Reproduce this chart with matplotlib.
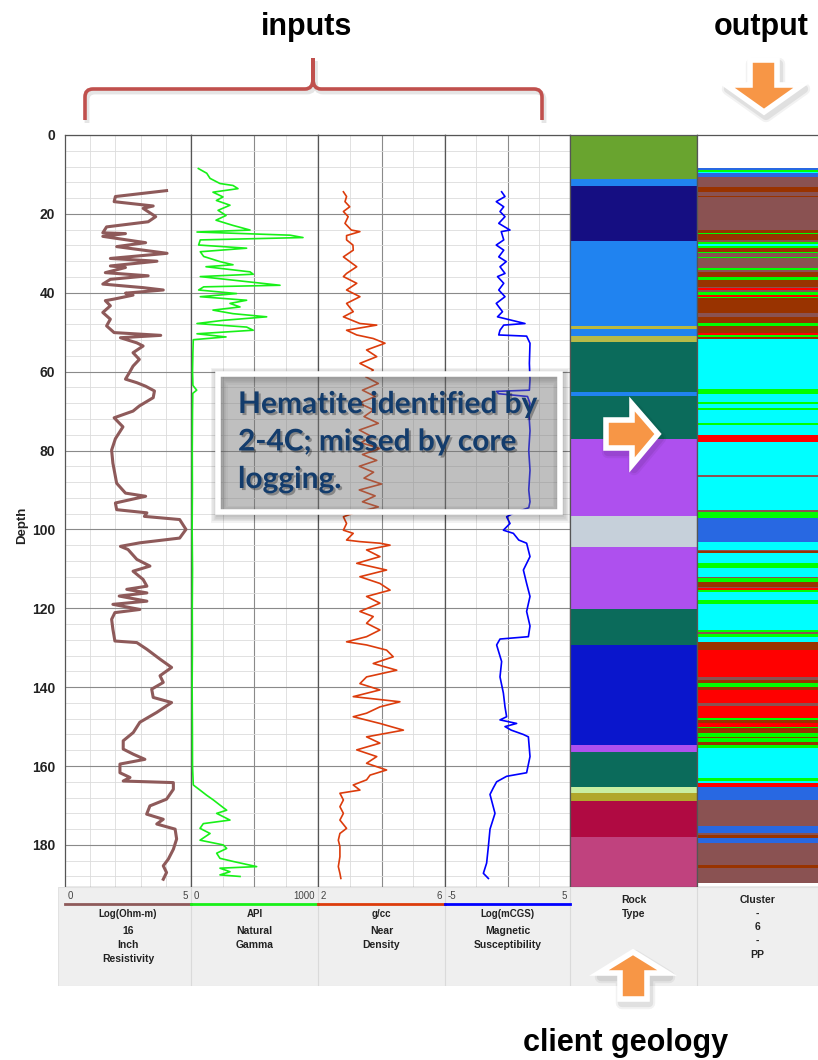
import numpy as np
import matplotlib.pyplot as plt
from matplotlib.patches import Polygon, Rectangle, PathPatch
from matplotlib.path import Path
import matplotlib.patheffects as pe

plt.rcParams['font.family'] = ['Liberation Sans', 'DejaVu Sans']

# ---------------- data ----------------
res_depth = [14.1, 15.6, 16.9, 18.0, 18.6, 20.7, 22.0, 23.3, 24.8, 25.0, 25.7, 27.3, 28.3, 30.0, 31.3,
             32.0, 33.2, 33.6, 34.9, 35.7, 36.6, 37.8, 38.7, 39.3, 40.1, 40.6, 41.6, 42.0, 43.3, 45.0,
             46.7, 48.4, 50.1, 50.8, 51.4, 52.7, 53.5, 55.2, 56.9, 58.6, 60.3, 61.9, 62.8, 63.7, 64.9,
             66.6, 68.7, 70.0, 71.7, 74.0, 77.0, 79.9, 83.2, 88.3, 90.8, 91.6, 93.3, 95.0, 95.8, 96.7,
             97.5, 100.0, 102.2, 103.4, 104.3, 105.1, 107.6, 109.3, 110.6, 112.7, 114.4, 115.2, 116.1,
             116.9, 118.2, 119.0, 120.3, 121.1, 122.8, 125.3, 128.3, 128.7, 130.4, 132.9, 135.0, 137.1,
             138.8, 140.5, 142.6, 143.9, 146.4, 148.9, 151.5, 153.6, 155.7, 157.0, 158.3, 159.5, 161.7,
             162.9, 163.8, 164.2, 165.9, 168.4, 170.1, 172.2, 173.5, 174.7, 176.0, 178.5, 181.1, 183.6,
             185.3, 187.0, 188.7]
res_val = [4.03, 2.0, 1.95, 3.5, 3.1, 3.6, 3.3, 1.65, 1.5, 2.4, 1.5, 3.2, 2.05, 4.05, 1.8,
           3.65, 1.8, 2.4, 1.6, 3.3, 1.8, 1.5, 3.1, 3.9, 2.4, 2.7, 1.95, 1.6, 1.8, 1.5,
           1.8, 1.65, 1.95, 3.8, 2.2, 2.85, 3.1, 2.7, 2.95, 2.7, 2.55, 2.4, 2.85, 3.2, 3.55,
           3.5, 2.95, 2.7, 1.95, 2.3, 2.0, 1.85, 1.9, 2.05, 2.4, 3.2, 2.0, 2.05, 3.25, 3.15,
           4.55, 4.8, 4.55, 2.97, 2.2, 2.5, 2.85, 3.37, 2.7, 3.1, 3.25, 2.45, 3.25,
           2.15, 3.25, 1.9, 2.97, 1.98, 1.85, 1.9, 1.98, 2.85, 3.25, 3.77, 4.23, 3.77,
           3.9, 3.44, 3.5, 4.23, 3.64, 2.97, 2.71, 2.31, 2.31, 2.71, 3.17, 2.18, 2.18,
           2.58, 2.31, 4.3, 4.3, 4.03, 3.37, 3.24, 3.9, 3.64, 4.37, 4.43, 4.3, 4.1,
           3.9, 4.03, 3.9]

gam_depth = [8.5, 9.7, 11.0, 12.3, 12.8, 13.6, 14.5, 15.7, 16.6, 17.8, 19.1, 20.4, 21.6, 22.9, 24.1,
             24.6, 25.4, 26.0, 26.6, 27.9, 28.7, 29.6, 30.8, 32.1, 32.9, 33.4, 34.7, 35.3, 35.9, 36.8,
             38.1, 38.5, 39.3, 40.2, 41.0, 41.9, 42.7, 43.6, 44.4, 45.3, 46.1, 47.0, 47.8, 48.7, 49.5,
             50.4, 51.2, 51.9, 55.0, 60.0, 63.5, 64.7, 65.5, 70.0, 80.0, 90.0, 100.0, 110.0, 120.0,
             130.0, 140.0, 150.0, 160.0, 164.8, 166.1, 167.4, 168.6, 169.9, 171.2, 172.0, 173.7, 174.6,
             175.8, 177.1, 178.8, 180.0, 180.9, 182.1, 183.4, 184.2, 185.5, 185.9, 186.8, 187.6, 188.0]
gam_val = [58, 124, 150, 228, 331, 370, 173, 252, 200, 307, 213, 276, 197, 328, 465,
           47, 780, 882, 73, 60, 438, 73, 100, 228, 331, 118, 465, 490, 73, 331,
           701, 100, 60, 359, 73, 438, 307, 386, 173, 331, 596, 252, 47, 438, 490,
           47, 276, 18, 15, 12, 15, 45, 14, 12, 10, 11, 9, 12, 10,
           11, 9, 11, 12, 18, 71, 123, 176, 228, 281, 202, 307, 97,
           71, 150, 71, 254, 281, 202, 228, 333, 517, 228, 307, 228, 386]

den_depth = [14.4, 15.6, 16.9, 18.2, 19.4, 20.7, 22.4, 24.1, 24.5, 25.5, 26.6, 27.9, 29.2, 30.9, 32.1,
             33.4, 35.1, 35.9, 37.6, 39.3, 41.0, 42.7, 44.8, 46.1, 47.8, 48.2, 49.5, 50.7, 51.6, 52.8,
             54.5, 56.2, 57.9, 59.6, 61.3, 63.0, 64.7, 66.3, 68.0, 69.7, 71.4, 73.1, 74.8, 76.5, 78.0,
             79.5, 81.0, 82.5, 84.0, 85.5, 87.0, 88.5, 90.0, 91.5, 93.0, 94.3, 95.9, 96.8, 98.5, 100.2,
             101.0, 102.7, 103.1, 103.5, 104.0, 105.2, 106.9, 108.6, 110.3, 112.0, 113.7, 115.4, 117.0,
             118.7, 120.8, 122.1, 123.8, 125.5, 127.2, 128.5, 129.3, 130.6, 132.3, 134.0, 135.7, 137.4,
             139.1, 140.7, 142.4, 143.7, 145.0, 146.6, 147.5, 149.2, 150.9, 152.6, 154.2, 155.9, 157.6,
             159.3, 161.0, 162.3, 163.5, 164.8, 166.1, 166.9, 168.6, 170.3, 172.0, 173.7, 175.8, 177.1,
             178.8, 180.4, 183.0, 185.5, 187.2, 188.5]
den_val = [2.80, 2.90, 2.85, 3.0, 2.8, 2.95, 2.85, 3.05, 3.32, 2.9, 2.90, 3.1, 3.11, 2.80, 3.0,
           3.22, 2.90, 2.80, 3.22, 2.90, 3.32, 2.90, 3.11, 2.80, 3.32, 3.85, 2.90, 3.22, 3.74, 4.11,
           3.53, 3.85, 3.32, 3.74, 3.5, 3.9, 3.4, 3.8, 3.3, 3.75, 3.45, 3.9, 3.3, 3.7, 3.35,
           3.95, 3.4, 3.85, 3.3, 3.75, 3.45, 4.0, 3.3, 3.8, 3.4, 3.9, 3.11, 2.80, 2.90, 2.80,
           3.11, 2.90, 3.32, 3.95, 4.27, 3.53, 3.95, 3.22, 4.16, 3.32, 3.95, 4.27, 3.53,
           3.95, 3.32, 3.74, 3.53, 3.95, 3.53, 2.90, 3.53, 4.16, 4.37, 3.74, 4.48, 3.53,
           3.32, 3.95, 3.11, 4.58, 3.95, 3.53, 3.11, 3.95, 4.69, 3.53, 3.95, 3.22, 3.85,
           3.53, 4.16, 3.64, 3.53, 3.11, 3.32, 2.69, 2.80, 2.69, 2.80, 2.69, 2.90, 2.69,
           2.64, 2.69, 2.69, 2.64, 2.69, 2.72]

mag_depth = [14.4, 15.6, 16.9, 18.2, 19.4, 20.7, 22.4, 24.1, 24.5, 26.6, 27.9, 29.2, 30.9, 32.1, 33.4,
             35.1, 35.9, 37.6, 39.3, 41.0, 42.7, 44.8, 46.1, 47.8, 48.2, 49.5, 50.7, 51.0, 52.8, 57.9,
             62.0, 64.7, 65.0, 65.6, 66.3, 68.0, 70.0, 75.0, 80.0, 85.0, 90.0, 93.0, 94.5, 95.9, 96.8,
             98.5, 100.2, 101.0, 102.7, 103.5, 106.9, 110.3, 113.7, 117.0, 120.8, 124.5, 127.2, 127.8,
             129.3, 133.5, 137.4, 141.5, 145.0, 147.5, 148.3, 149.2, 150.0, 150.9, 152.0, 152.6, 157.6,
             161.7, 162.6, 164.0, 165.5, 167.2, 172.0, 176.0, 180.4, 184.6, 187.2, 188.5]
mag_val = [-0.47, -0.2, -0.9, -0.3, -0.6, -0.2, -0.7, 0.2, -0.5, -0.3, -0.9, -0.3, -0.7, -0.1, -0.6,
           -0.2, -0.8, -0.3, -0.7, -0.2, -0.9, -0.4, -0.8, 1.4, -0.3, -0.6, -0.7, 1.53, 1.8, 1.75,
           1.8, 1.75, -0.87, -0.7, 1.6, 1.8, 1.7, 1.8, 1.7, 1.8, 1.7, 1.8, 1.7, 0.47, -0.07,
           0.2, -0.33, 0.47, 0.9, 1.53, 1.8, 1.27, 1.53, 1.8, 1.53, 1.8, 1.67, -0.6,
           -0.87, -0.47, -0.6, -0.33, -0.2, -0.07, -0.6, 0.73, -0.2, 0.3, 1.27, 1.67, 1.8,
           1.53, -0.07, -0.87, -1.13, -1.4, -1.0, -1.4, -1.53, -1.67, -1.93, -1.53]

rock_edges = [0, 11.2, 12.9, 26.9, 48.4, 49.1, 50.9, 52.4, 65.1, 66.3, 77.2, 96.5, 104.4, 120.2,
              129.3, 154.7, 156.4, 165.4, 166.9, 168.9, 177.9, 191.5]
rock_colors = ['#69A42F', '#2083F0', '#150E82', '#2083F0', '#BCB83C', '#2083F0', '#B7BA48',
               '#0B6B5B', '#2083F0', '#0B6B5B', '#AE50EE', '#C6D0DA', '#AE50EE', '#0B6B5B',
               '#0A16CC', '#AE50EE', '#0B6B5B', '#C9EEA2', '#B1A72B', '#B00A42', '#C0427E']

cl_edges = [8.45, 8.9, 9.3, 9.7, 10.6, 13.1, 14.4, 15.5, 15.8, 24.1, 24.9, 25.2, 26.6, 27.1, 27.7,
            28.1, 28.7, 29.6, 30.0, 30.9, 31.3, 33.8, 34.2, 34.7, 35.9, 36.8, 38.5, 38.9, 39.3, 39.7,
            40.6, 41.0, 41.4, 45.2, 46.1, 47.7, 48.4, 50.3, 50.7, 51.2, 51.6, 64.3, 65.7, 67.6, 68.1,
            69.3, 69.7, 73.1, 73.5, 76.1, 77.8, 86.2, 86.6, 95.1, 95.5, 97.2, 103.1, 105.2, 105.6,
            106.1, 108.6, 109.9, 112.0, 112.4, 113.3, 114.5, 114.9, 115.4, 115.8, 117.9, 118.8, 125.5,
            126.0, 126.6, 127.2, 128.5, 130.6, 137.3, 138.2, 139.0, 139.9, 140.7, 144.1, 144.9, 147.9,
            148.3, 149.2, 150.0, 150.4, 151.7, 152.6, 153.0, 153.8, 154.7, 155.5, 163.1, 163.9, 164.4,
            165.4, 166.1, 168.6, 175.2, 177.0, 177.5, 178.3, 179.6, 185.1, 185.9, 189.6]
cl_codes = ['B', 'G', 'C', 'B', 'M', 'O', 'M', 'O', 'M', 'O', 'G', 'O', 'M', 'G',
            'C', 'G', 'O', 'G', 'M', 'G', 'M', 'G', 'M', 'O', 'G', 'O', 'M', 'R', 'M',
            'G', 'R', 'G', 'O', 'M', 'O', 'G', 'O', 'R', 'G', 'O', 'C', 'G', 'C', 'G',
            'C', 'G', 'C', 'G', 'C', 'R', 'C', 'M', 'C', 'M', 'G', 'B', 'C', 'M',
            'O', 'C', 'G', 'C', 'M', 'G', 'O', 'M', 'R', 'G', 'C', 'G', 'C',
            'G', 'M', 'G', 'C', 'O', 'R', 'M', 'O', 'G', 'O', 'R', 'M', 'R',
            'G', 'O', 'R', 'G', 'O', 'G', 'O', 'G', 'O', 'G', 'C', 'G', 'C',
            'R', 'B', 'B', 'M', 'B', 'M', 'O', 'B', 'M', 'O', 'M']
cl_palette = {'B': '#2868E2', 'M': '#8A5252', 'O': '#993300', 'G': '#00FF00',
              'R': '#FF0000', 'C': '#00FFFF'}

depth_ticks = [0, 20, 40, 60, 80, 100, 120, 140, 160, 180]

# ---------------- layout (pixels) ----------------
W, H = 818, 1060
edges = [65, 191, 318, 445, 570, 697, 818]
top, bot = 135, 887
dmax = (bot - top) / 3.944

fig = plt.figure(figsize=(W / 100, H / 100), dpi=100)


def rect(x0, y0, x1, y1):
    return [x0 / W, 1 - y1 / H, (x1 - x0) / W, (y1 - y0) / H]


tracks = [
    (res_depth, res_val, (0, 5), '#8E5A5A', 2.2, [], [1, 2, 3, 4]),
    (gam_depth, gam_val, (0, 1000), '#18F018', 1.2, [500], [250, 750]),
    (den_depth, den_val, (2, 6), '#DC3C0C', 1.2, [4], [3, 5]),
    (mag_depth, mag_val, (-5, 5), '#0000FF', 1.2, [0], [-2.5, 2.5]),
]

for i, (d, v, xl, col, lw, xmaj, xmin) in enumerate(tracks):
    ax = fig.add_axes(rect(edges[i], top, edges[i + 1], bot))
    ax.plot(v, d, color=col, lw=lw, zorder=3)
    ax.set_xlim(*xl)
    ax.set_ylim(dmax, 0)
    ax.set_xticks(xmaj)
    ax.set_xticks(xmin, minor=True)
    ax.set_yticks(depth_ticks)
    ax.set_yticks(np.arange(0, 191, 4), minor=True)
    ax.set_axisbelow(True)
    ax.grid(which='minor', color='#dcdcdc', lw=0.6)
    ax.grid(which='major', color='#8a8a8a', lw=0.8)
    ax.tick_params(which='both', length=0, labelbottom=False, labelleft=(i == 0))
    if i == 0:
        ax.tick_params(axis='y', labelsize=10, pad=7, labelcolor='#222222')
        for t in ax.get_yticklabels():
            t.set_fontweight('bold')
    for s in ax.spines.values():
        s.set_color('#555555')
        s.set_linewidth(0.9)

# rock type column
axr = fig.add_axes(rect(edges[4], top, edges[5], bot))
axr.barh(rock_edges[:-1], 1, height=np.diff(rock_edges), left=0, align='edge',
         color=rock_colors, lw=0)
axr.set_xlim(0, 1)
axr.set_ylim(dmax, 0)
axr.set_xticks([])
axr.set_yticks([])
for s in axr.spines.values():
    s.set_color('#555555')
    s.set_linewidth(0.9)

# cluster column
axc = fig.add_axes(rect(edges[5], top, edges[6], bot))
axc.barh(cl_edges[:-1], 1, height=np.diff(cl_edges), left=0, align='edge',
         color=[cl_palette[c] for c in cl_codes], lw=0)
axc.set_xlim(0, 1)
axc.set_ylim(dmax, 0)
axc.set_xticks([])
axc.set_yticks([])
for s in axc.spines.values():
    s.set_color('#555555')
    s.set_linewidth(0.9)
axc.spines['right'].set_visible(False)

# ---------------- header ----------------
hdr = fig.add_axes(rect(58, bot, W, 986))
hdr.set_xlim(58, W)
hdr.set_ylim(986, bot)
hdr.axis('off')
hdr.add_patch(Rectangle((58, bot), W - 58, 986 - bot, fc='#EFEFEF', ec='#e2e2e2', lw=0.8))
for x in edges[1:-1]:
    hdr.plot([x, x], [bot, 986], color='#dadada', lw=0.8)

scales = [('0', '5'), ('0', '1000'), ('2', '6'), ('-5', '5')]
units = ['Log(Ohm-m)', 'API', 'g/cc', 'Log(mCGS)']
names = [['16', 'Inch', 'Resistivity'], ['Natural', 'Gamma'], ['Near', 'Density'],
         ['Magnetic', 'Susceptibility']]
for i in range(4):
    x0, x1 = edges[i], edges[i + 1]
    xc = (x0 + x1) / 2
    hdr.text(x0 + 3, 896, scales[i][0], fontsize=7, color='#444444', ha='left', va='center')
    hdr.text(x1 - 3, 896, scales[i][1], fontsize=7, color='#444444', ha='right', va='center')
    hdr.plot([x0, x1], [904, 904], color=tracks[i][3], lw=2)
    hdr.text(xc, 914, units[i], fontsize=7, fontweight='bold', color='#222222',
             ha='center', va='center')
    for k, s in enumerate(names[i]):
        hdr.text(xc, 931 + 14 * k, s, fontsize=7.5, fontweight='bold', color='#222222',
                 ha='center', va='center')
for k, s in enumerate(['Rock', 'Type']):
    hdr.text((edges[4] + edges[5]) / 2, 900 + 14 * k, s, fontsize=7.5, fontweight='bold',
             color='#222222', ha='center', va='center')
for k, s in enumerate(['Cluster', '-', '6', '-', 'PP']):
    hdr.text((edges[5] + edges[6]) / 2, 900 + 13.7 * k, s, fontsize=7.5, fontweight='bold',
             color='#222222', ha='center', va='center')

# ---------------- overlay annotations ----------------
ov = fig.add_axes([0, 0, 1, 1])
ov.set_xlim(0, W)
ov.set_ylim(H, 0)
ov.axis('off')
ov.set_zorder(10)
ov.patch.set_alpha(0)

ov.text(22, 525, 'Depth', rotation=90, fontsize=9.5, fontweight='bold', color='#222222',
        ha='center', va='center')

for txt, (x, y) in [('inputs', (307, 27)), ('output', (761, 27)), ('client geology', (626, 1043))]:
    ov.text(x, y, txt, fontsize=22, fontweight='bold', color='black', ha='center', va='center')

# brace over the input tracks
bv = [(85, 120), (85, 97), (85, 89), (93, 89), (305, 89), (313, 89), (313, 79), (313, 58),
      (313, 79), (313, 89), (321, 89), (534, 89), (542, 89), (542, 97), (542, 120)]
bc = [Path.MOVETO, Path.LINETO, Path.CURVE3, Path.CURVE3, Path.LINETO, Path.CURVE3, Path.CURVE3,
      Path.LINETO, Path.LINETO, Path.CURVE3, Path.CURVE3, Path.LINETO, Path.CURVE3, Path.CURVE3,
      Path.LINETO]
ov.add_patch(PathPatch(Path([(x + 2, y + 3) for x, y in bv], bc), fc='none',
                       ec=(0, 0, 0, 0.10), lw=3.5))
ov.add_patch(PathPatch(Path(bv, bc), fc='none', ec='#C0504D', lw=2.6, capstyle='butt'))

# orange block arrows
arrows = [
    [(750, 60), (777, 60), (777, 85), (802, 85), (764, 112), (726, 85), (750, 85)],
    [(606, 420), (632, 420), (632, 404), (658, 434), (632, 465), (632, 448), (606, 448)],
    [(620, 999), (647, 999), (647, 973), (667, 973), (633, 952), (599, 973), (620, 973)],
]
for pts in arrows:
    for k, a in [(9, 0.05), (6, 0.07)]:
        ov.add_patch(Polygon([(x + 2, y + 4) for x, y in pts], closed=True, fc='none',
                             ec=(0, 0, 0, a), lw=k, joinstyle='round'))
    ov.add_patch(Polygon(pts, closed=True, fc='#F79646', ec='white', lw=4, joinstyle='miter'))

# callout box (soft shadow drawn as outlines so the translucent fill stays light)
for k in range(1, 6):
    ov.add_patch(Rectangle((219, 376), 342, 138, fc='none', ec=(0, 0, 0, 0.05),
                           lw=2.2 + 2.0 * k))
ov.add_patch(Rectangle((218, 374), 342, 138, fc=(0.45, 0.45, 0.45, 0.45), ec='white', lw=4))
for k, s in enumerate(['Hematite identified by', '2-4C; missed by core', 'logging.']):
    ov.text(238, 413 + 37.5 * k, s, family=['Lato', 'DejaVu Sans'], fontsize=21.5,
            fontweight='bold', color='#133C6C', ha='left', va='baseline',
            path_effects=[pe.withSimplePatchShadow(offset=(1.5, -1.5), shadow_rgbFace='black',
                                                   alpha=0.3)])

fig.savefig('out.png', dpi=100)
